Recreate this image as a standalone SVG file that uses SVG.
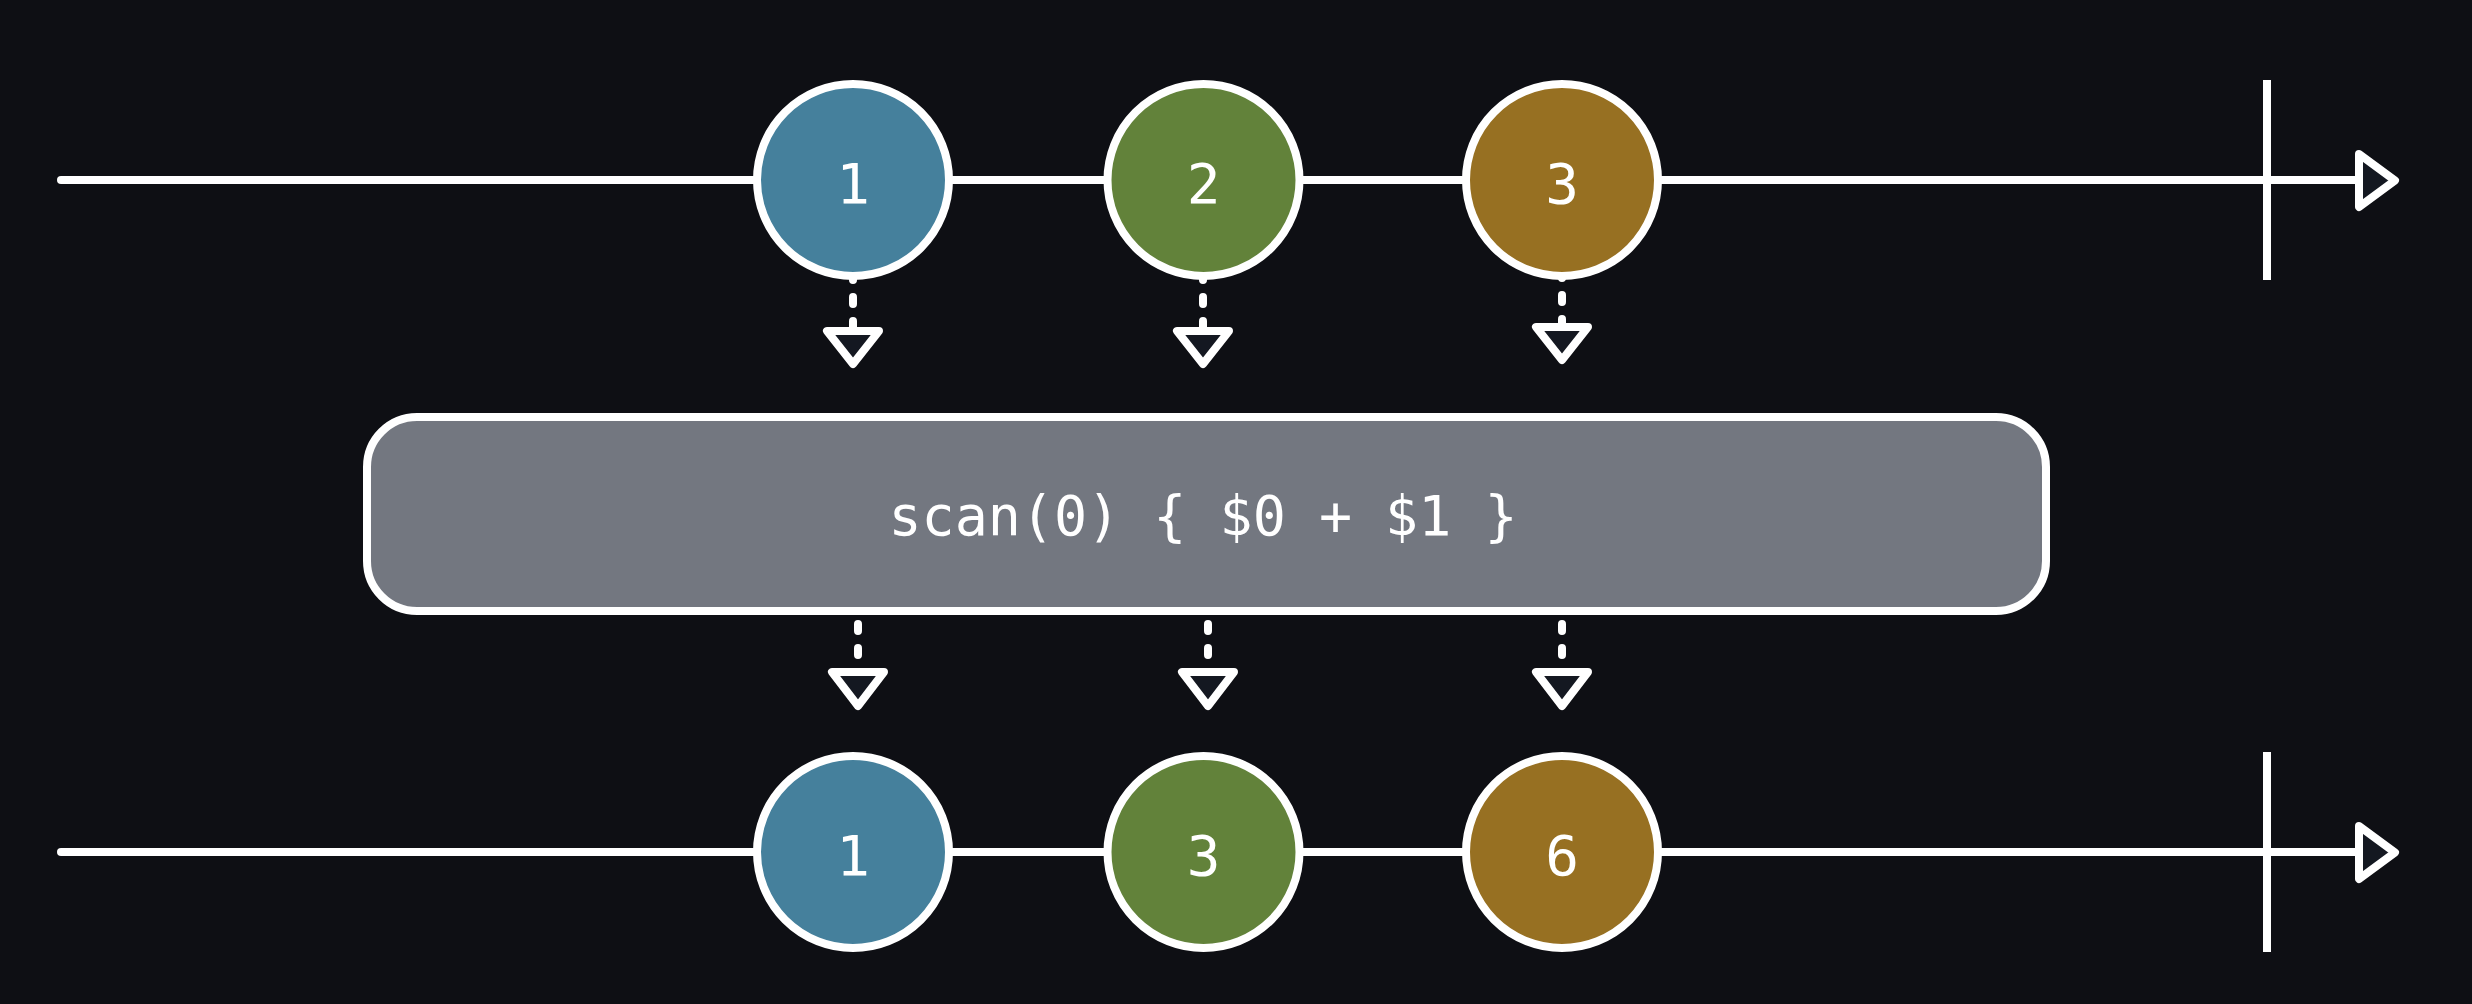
<svg xmlns="http://www.w3.org/2000/svg" width="2472" height="1004" viewBox="0 0 2472 1004">
  <style>
    .line { stroke: #ffffff; stroke-width: 8; fill: none; }
    .tick { stroke: #ffffff; stroke-width: 8; fill: none; }
    .dash { stroke: #ffffff; stroke-width: 8; fill: none; stroke-linecap: round; stroke-dasharray: 7 17; }
    .head { stroke: #ffffff; stroke-width: 8; fill: #141821; stroke-linejoin: round; }
    .marble { stroke: #ffffff; stroke-width: 8; }
    .blue { fill: #45809c; }
    .green { fill: #62823a; }
    .gold { fill: #977022; }
    .label { fill: #ffffff; font-family: "DejaVu Sans Mono", "Liberation Mono", monospace; font-size: 56px; text-anchor: middle; }
    .op { fill: #737780; stroke: #ffffff; stroke-width: 8; }
    .optext { fill: #ffffff; font-family: "DejaVu Sans Mono", "Liberation Mono", monospace; font-size: 55px; text-anchor: middle; }
  </style>
  <rect x="0" y="0" width="2472" height="1004" fill="#0e0f14"/>

  <g id="connectors">
    <!-- top timeline -->
    <line class="line" x1="61" y1="180" x2="2359" y2="180" stroke-linecap="round"/>
    <line class="tick" x1="2267" y1="80" x2="2267" y2="280"/>
    <path class="head" d="M2359,154 L2395,180.5 L2359,207 Z"/>
    <!-- bottom timeline -->
    <line class="line" x1="61" y1="852" x2="2359" y2="852" stroke-linecap="round"/>
    <line class="tick" x1="2267" y1="752" x2="2267" y2="952"/>
    <path class="head" d="M2359,826 L2395,852.5 L2359,879 Z"/>

    <!-- top arrows into operator -->
    <line class="dash" x1="853" y1="273" x2="853" y2="331"/>
    <path class="head" d="M827,331 L879,331 L853,364 Z"/>
    <line class="dash" x1="1203" y1="273" x2="1203" y2="331"/>
    <path class="head" d="M1177,331 L1229,331 L1203,364 Z"/>
    <line class="dash" x1="1562" y1="271" x2="1562" y2="327"/>
    <path class="head" d="M1536,327 L1588,327 L1562,360 Z"/>

    <!-- bottom arrows out of operator -->
    <line class="dash" x1="858" y1="624" x2="858" y2="672"/>
    <path class="head" d="M832,672 L884,672 L858,706 Z"/>
    <line class="dash" x1="1208" y1="624" x2="1208" y2="672"/>
    <path class="head" d="M1182,672 L1234,672 L1208,706 Z"/>
    <line class="dash" x1="1562" y1="624" x2="1562" y2="672"/>
    <path class="head" d="M1536,672 L1588,672 L1562,706 Z"/>
  </g>

  <g id="in-1">
    <circle class="marble blue" cx="853" cy="180" r="96"/>
    <text class="label" x="853" y="203">1</text>
  </g>
  <g id="in-2">
    <circle class="marble green" cx="1203.5" cy="180" r="96"/>
    <text class="label" x="1203.5" y="203">2</text>
  </g>
  <g id="in-3">
    <circle class="marble gold" cx="1562" cy="180" r="96"/>
    <text class="label" x="1562" y="203">3</text>
  </g>

  <g id="operator">
    <rect class="op" x="367" y="417" width="1679" height="194" rx="50" ry="50"/>
    <text class="optext" x="1203" y="535" xml:space="preserve">scan(0) { $0 + $1 }</text>
  </g>

  <g id="out-1">
    <circle class="marble blue" cx="853" cy="852" r="96"/>
    <text class="label" x="853" y="875">1</text>
  </g>
  <g id="out-3">
    <circle class="marble green" cx="1203.5" cy="852" r="96"/>
    <text class="label" x="1203.5" y="875">3</text>
  </g>
  <g id="out-6">
    <circle class="marble gold" cx="1562" cy="852" r="96"/>
    <text class="label" x="1562" y="875">6</text>
  </g>
</svg>
